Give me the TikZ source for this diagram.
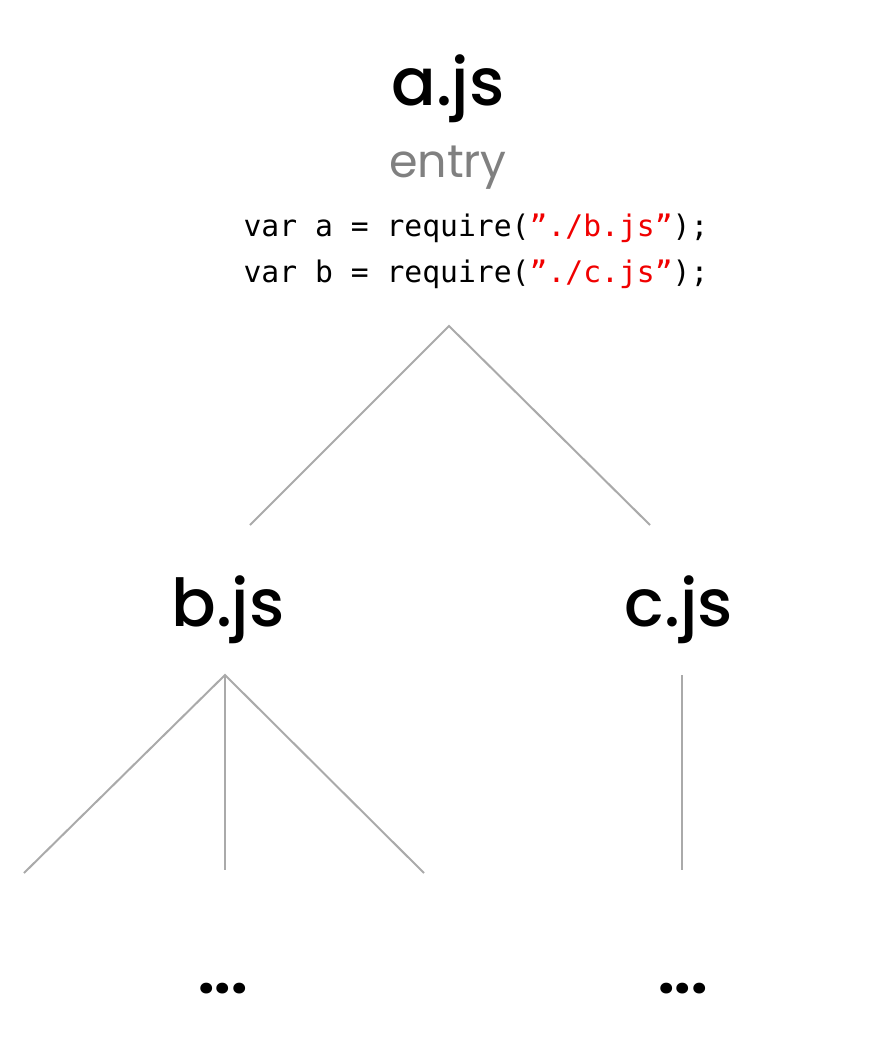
\documentclass[tikz,border=0pt]{standalone}
\usepackage{fontspec}
\setmainfont{Poppins}[UprightFont={* Medium}, BoldFont={* Bold}]
\newfontfamily\popreg{Poppins}
\newfontfamily\codefont{DejaVu Sans Mono}
\definecolor{linegray}{HTML}{AAAAAA}
\definecolor{entrygray}{HTML}{808080}
\definecolor{codered}{HTML}{F00000}
\tikzset{
  title/.style={anchor=base, inner sep=0pt, font=\fontsize{66}{66}\selectfont},
  sub/.style={anchor=base, inner sep=0pt, text=entrygray, font=\popreg\fontsize{46}{46}\selectfont},
  code/.style={anchor=base, inner sep=0pt, font=\codefont\fontsize{29.7}{29.7}\selectfont},
  edge/.style={draw=linegray, line width=2pt},
  dots/.style={anchor=base, inner sep=0pt, font=\bfseries\fontsize{58}{58}\selectfont}
}
\begin{document}
\begin{tikzpicture}[x=1pt,y=-1pt]
\useasboundingbox (0,0) rectangle (891,1063);
\node[title] (a) at (448,105) {a.js};
\node[sub] (entry) at (448,177) {entry};
\node[code] (l1) at (476,236) {var a = require(\textcolor{codered}{”./b.js”});};
\node[code] (l2) at (476,282) {var b = require(\textcolor{codered}{”./c.js”});};
\node[title] (b) at (228,626) {b.js};
\node[title] (c) at (679,626) {c.js};
\node[dots] (bd) at (223,993) {...};
\node[dots] (cd) at (683,993) {...};
\coordinate (aTop) at (449,326);
\coordinate (aL) at (250,525);
\coordinate (aR) at (650,525);
\coordinate (bTop) at (225,675);
\coordinate (bL) at (24,873);
\coordinate (bM) at (225,870);
\coordinate (bR) at (424,873);
\coordinate (cTop) at (682,675);
\coordinate (cB) at (682,870);
\draw[edge] (aL) -- (aTop) -- (aR);
\draw[edge] (bL) -- (bTop) -- (bR);
\draw[edge] (bTop) -- (bM);
\draw[edge] (cTop) -- (cB);
\end{tikzpicture}
\end{document}
